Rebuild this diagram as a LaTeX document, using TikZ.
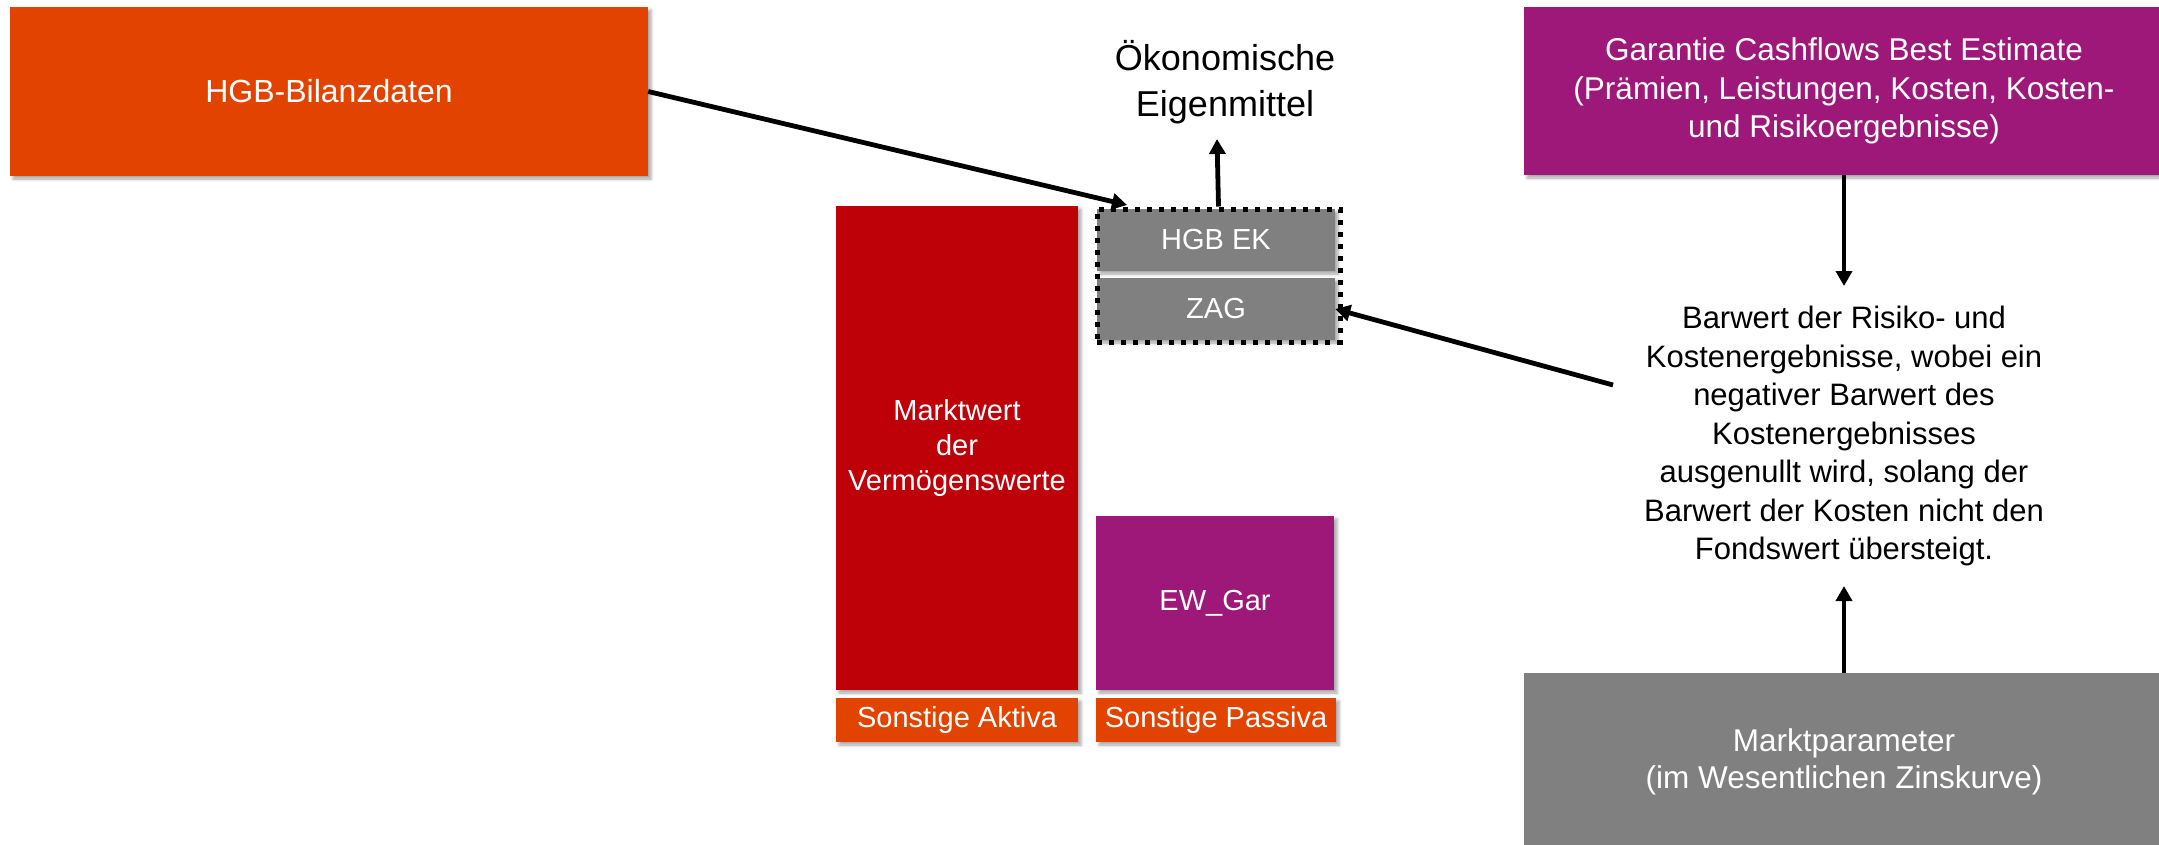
\documentclass[tikz,border=0pt]{standalone}
\usepackage{fontspec}
\setmainfont{Liberation Sans}
\usetikzlibrary{arrows.meta,shadows.blur}

\definecolor{hgborange}{RGB}{226,68,0}
\definecolor{mwred}{RGB}{190,0,8}
\definecolor{garpurple}{RGB}{158,24,121}
\definecolor{boxgray}{RGB}{128,128,128}

\newcommand\fsz[2]{\fontsize{#1}{#2}\selectfont}

\begin{document}
\begin{tikzpicture}[x=1pt,y=-1pt,
  box/.style={rectangle, inner sep=0pt, text=white, align=center,
    blur shadow={shadow xshift=3pt, shadow yshift=-3pt,
                 shadow blur radius=3pt, shadow opacity=35}},
  flow/.style={line width=4.8pt, -{Triangle[width=16pt,length=15pt]}},
  plaintext/.style={inner sep=0pt, align=center, text=black}
]
\useasboundingbox (0,0) rectangle (2159,844);

% input boxes
\node[box, fill=hgborange, minimum width=638pt, minimum height=169pt,
      font=\fsz{32}{38}] (hgb) at (329,91.5) {HGB-Bilanzdaten};
\node[box, fill=garpurple, minimum width=640pt, minimum height=168pt,
      font=\fsz{31.5}{38.3}] (gar) at (1844,91)
  {Garantie Cashflows Best Estimate\\(Prämien, Leistungen, Kosten, Kosten-\\und Risikoergebnisse)};
\node[box, fill=boxgray, minimum width=640pt, minimum height=178pt,
      font=\fsz{31.5}{37}] (mkt) at (1844,762)
  {Marktparameter\\(im Wesentlichen Zinskurve)};

% balance sheet
\node[box, fill=mwred, minimum width=242pt, minimum height=484pt,
      font=\fsz{29}{35}] (mw) at (957,448) {Marktwert\\der\\Vermögenswerte};
\node[box, fill=garpurple, minimum width=238pt, minimum height=174pt,
      font=\fsz{29}{35}] (ew) at (1215,603) {EW\_Gar};
\node[box, fill=hgborange, minimum width=242pt, minimum height=44pt,
      font=\fsz{29}{35}] (sa) at (957,720) {Sonstige Aktiva};
\node[box, fill=hgborange, minimum width=240pt, minimum height=44pt,
      font=\fsz{29}{35}] (sp) at (1216,720) {Sonstige Passiva};
\node[box, fill=boxgray, minimum width=238pt, minimum height=62pt,
      font=\fsz{29}{35}] (hgbek) at (1216,240) {HGB EK};
\node[box, fill=boxgray, minimum width=238pt, minimum height=62pt,
      font=\fsz{29}{35}] (zag) at (1216,309) {ZAG};
\node[draw, line width=5pt, dash pattern=on 5pt off 7pt,
      minimum width=243pt, minimum height=133pt, inner sep=0pt] (frame) at (1218.5,275.5) {};

% texts
\node[plaintext, font=\fsz{36}{46}] (oek) at (1225,82) {Ökonomische\\Eigenmittel};
\node[plaintext, font=\fsz{31}{38.5}] (bar) at (1844,436)
  {Barwert der Risiko- und\\Kostenergebnisse, wobei ein\\negativer Barwert des\\Kostenergebnisses\\ausgenullt wird, solang der\\Barwert der Kosten nicht den\\Fondswert übersteigt.};

% connector end points
\coordinate (hgbin) at (1127,205);
\coordinate (eigtop) at (1217,139);
\coordinate (bartop) at (1844,286);
\coordinate (barbot) at (1844,586);
\coordinate (barout) at (1613,385);

% connectors
\draw[flow] (hgb.east) -- (hgbin);
\draw[flow] (frame.north) -- (eigtop);
\draw[flow] (gar.south) -- (bartop);
\draw[flow] (mkt.north) -- (barbot);
\draw[flow] (barout) -- (zag.east);
\end{tikzpicture}
\end{document}
